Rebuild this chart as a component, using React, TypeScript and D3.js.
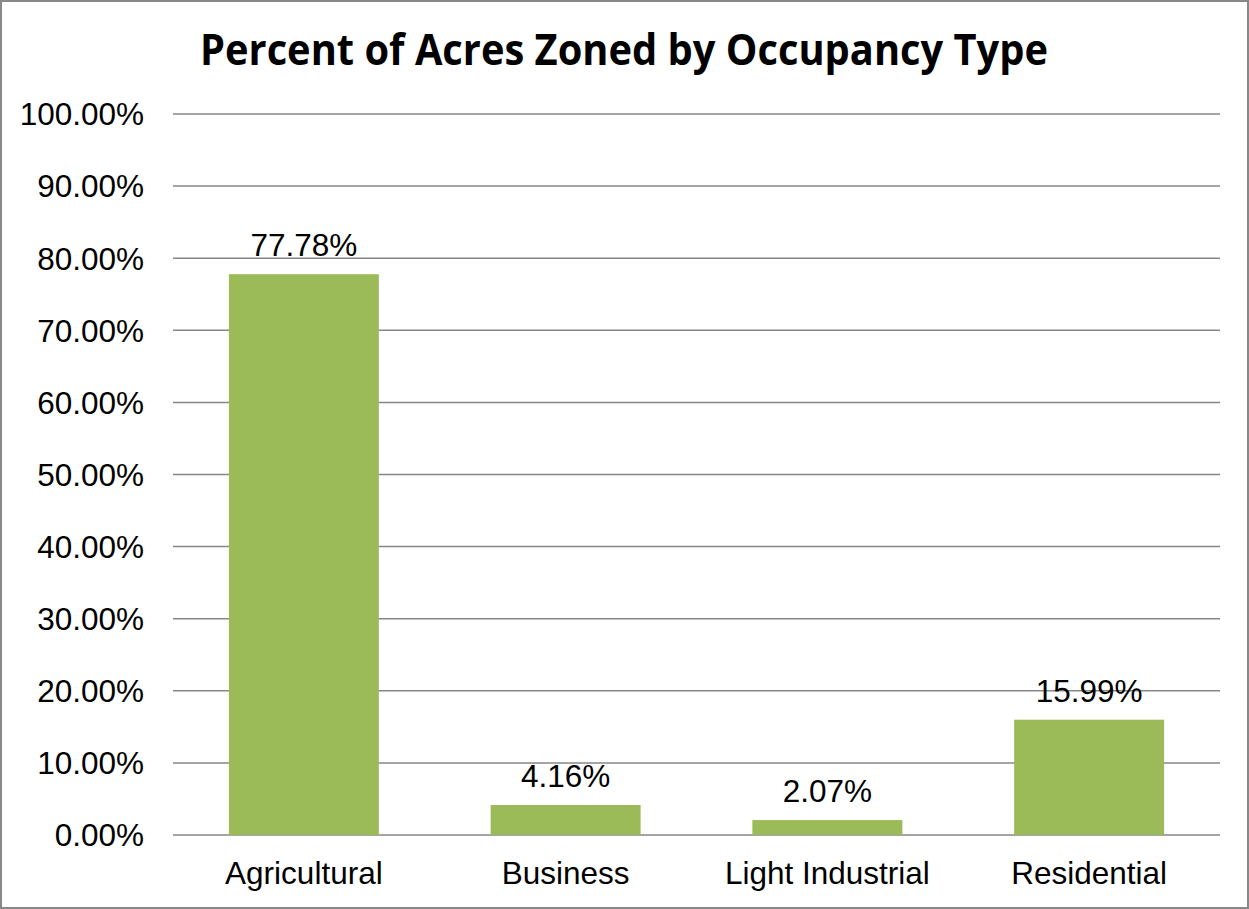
import React, { useEffect, useRef } from 'react';
import * as d3 from 'd3';

const categories = ['Agricultural', 'Business', 'Light Industrial', 'Residential'];
const values = [77.78, 4.16, 2.07, 15.99];
const yTicks = [0, 10, 20, 30, 40, 50, 60, 70, 80, 90, 100];
const title = 'Percent of Acres Zoned by Occupancy Type';

const App = () => {
    const ref = useRef<SVGSVGElement>(null);

    useEffect(() => {
        const width = 1249;
        const height = 909;
        const margin = { top: 114, right: 29, bottom: 74, left: 173 };
        const font = '"Liberation Sans", Arial, sans-serif';

        const svg: any = d3.select(ref.current);
        svg.selectAll('*').remove();

        // outer border
        svg.append('rect')
            .attr('x', 1)
            .attr('y', 1)
            .attr('width', width - 2)
            .attr('height', height - 2)
            .attr('fill', '#fff')
            .attr('stroke', '#888')
            .attr('stroke-width', 2);

        const x = d3.scaleBand()
            .domain(categories)
            .range([margin.left, width - margin.right])
            .paddingInner(0.427)
            .paddingOuter(0.2135);

        const y = d3.scaleLinear()
            .domain([0, 100])
            .range([height - margin.bottom, margin.top]);

        // gridlines
        svg.append('g')
            .selectAll('line')
            .data(yTicks)
            .enter()
            .append('line')
            .attr('x1', margin.left)
            .attr('x2', width - margin.right)
            .attr('y1', (d: number) => y(d))
            .attr('y2', (d: number) => y(d))
            .attr('stroke', '#878787')
            .attr('stroke-width', 1.5);

        // y labels
        svg.append('g')
            .selectAll('text')
            .data(yTicks)
            .enter()
            .append('text')
            .attr('x', 144)
            .attr('y', (d: number) => y(d))
            .attr('dy', '0.36em')
            .attr('text-anchor', 'end')
            .style('font-family', font)
            .style('font-size', '31.5px')
            .attr('fill', '#000')
            .text((d: number) => d.toFixed(2) + '%');

        // bars
        svg.append('g')
            .selectAll('rect')
            .data(values)
            .enter()
            .append('rect')
            .attr('x', (d: number, i: number) => x(categories[i]))
            .attr('y', (d: number) => y(d))
            .attr('width', x.bandwidth())
            .attr('height', (d: number) => y(0) - y(d))
            .attr('fill', '#9BBB59');

        // value labels
        svg.append('g')
            .selectAll('text')
            .data(values)
            .enter()
            .append('text')
            .attr('x', (d: number, i: number) => (x(categories[i]) as number) + x.bandwidth() / 2)
            .attr('y', (d: number) => y(d) - 18)
            .attr('text-anchor', 'middle')
            .style('font-family', font)
            .style('font-size', '31.5px')
            .attr('fill', '#000')
            .text((d: number) => d.toFixed(2) + '%');

        // category labels
        svg.append('g')
            .selectAll('text')
            .data(categories)
            .enter()
            .append('text')
            .attr('x', (d: string) => (x(d) as number) + x.bandwidth() / 2)
            .attr('y', 884)
            .attr('text-anchor', 'middle')
            .style('font-family', font)
            .style('font-size', '31.5px')
            .attr('fill', '#000')
            .text((d: string) => d);

        // title
        svg.append('text')
            .attr('x', 624)
            .attr('y', 65)
            .attr('text-anchor', 'middle')
            .attr('textLength', 848)
            .attr('lengthAdjust', 'spacingAndGlyphs')
            .style('font-family', '"Open Sans", "Noto Sans", sans-serif')
            .style('font-weight', 'bold')
            .style('font-size', '43px')
            .attr('fill', '#000')
            .text(title);
    }, []);

    return (
        <svg
            ref={ref}
            width={1249}
            height={909}
            style={{ position: 'absolute', left: 0, top: 0, display: 'block' }}
        />
    );
};

export default App;
